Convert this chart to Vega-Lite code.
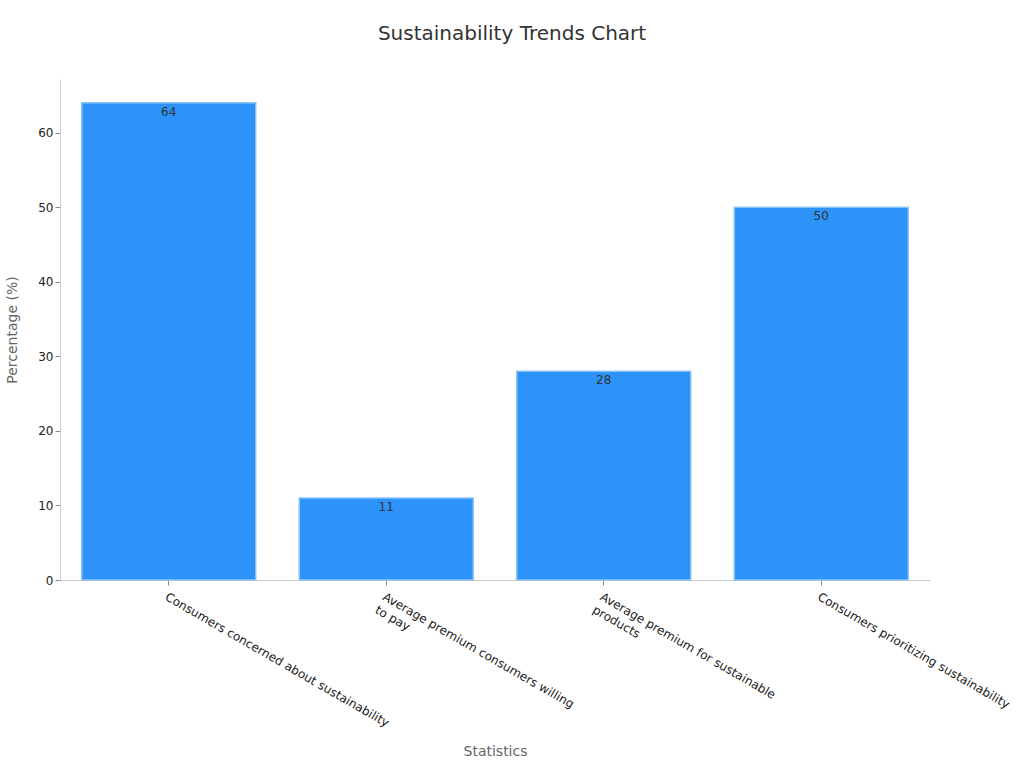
{
  "$schema": "https://vega.github.io/schema/vega-lite/v6.json",
  "width": 870,
  "height": 501,
  "padding": {"left": 5, "top": 24, "right": 0, "bottom": 0},
  "background": "white",
  "title": {
    "text": "Sustainability Trends Chart",
    "font": "DejaVu Sans",
    "fontSize": 20,
    "fontWeight": "normal",
    "color": "#333333",
    "offset": 35,
    "dx": 17
  },
  "config": {
    "font": "DejaVu Sans",
    "view": {"stroke": null},
    "axis": {
      "domainColor": "#cccccc",
      "tickColor": "#888888",
      "labelColor": "#222222",
      "labelFontSize": 12,
      "titleColor": "#666666",
      "titleFontSize": 14,
      "titleFontWeight": "normal",
      "grid": false
    }
  },
  "data": {
    "values": [
      {"Statistic": "Consumers concerned about sustainability", "Value": 64},
      {"Statistic": "Average premium consumers willing\nto pay", "Value": 11},
      {"Statistic": "Average premium for sustainable\nproducts", "Value": 28},
      {"Statistic": "Consumers prioritizing sustainability", "Value": 50}
    ]
  },
  "encoding": {
    "x": {
      "field": "Statistic",
      "type": "nominal",
      "sort": null,
      "scale": {"paddingInner": 0.2, "paddingOuter": 0.1},
      "axis": {
        "title": "Statistics",
        "labelAngle": 30,
        "labelAlign": "left",
        "labelBaseline": "top",
        "labelLimit": 0,
        "labelPadding": 6,
        "labelLineHeight": 15,
        "labelExpr": "split(datum.label, '\\n')",
        "titlePadding": 16
      }
    },
    "y": {
      "field": "Value",
      "type": "quantitative",
      "scale": {"domain": [0, 67.2], "nice": false},
      "axis": {"title": "Percentage (%)", "values": [0, 10, 20, 30, 40, 50, 60], "titlePadding": 18}
    }
  },
  "layer": [
    {
      "mark": {"type": "bar", "color": "#2E93F8", "stroke": "#8CC3F5", "strokeWidth": 1.5}
    },
    {
      "mark": {"type": "text", "baseline": "top", "dy": 4, "fontSize": 12, "color": "#333333"},
      "encoding": {"text": {"field": "Value", "type": "quantitative"}}
    }
  ]
}
